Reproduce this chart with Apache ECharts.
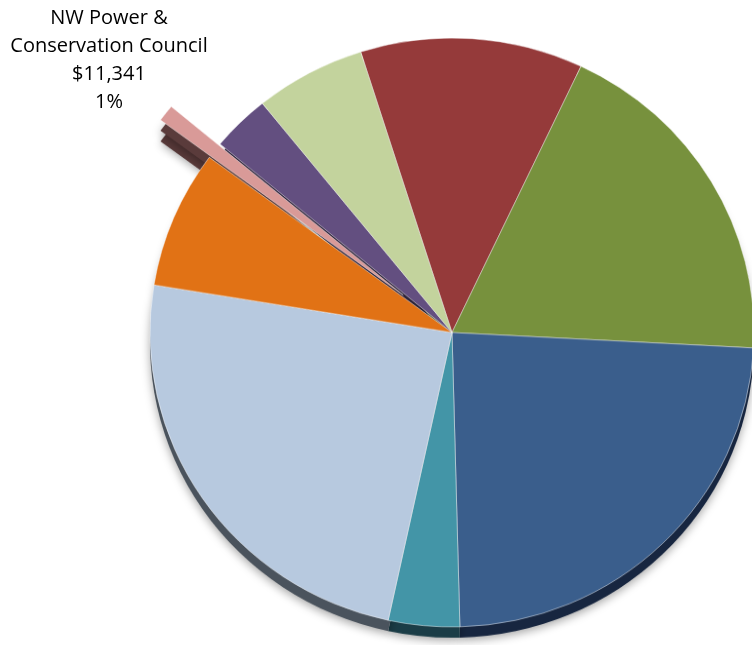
<!DOCTYPE html>
<html>
<head>
<meta charset="utf-8">
<script src="https://cdn.jsdelivr.net/npm/echarts@6/dist/echarts.min.js"></script>
<style>
  html, body { margin: 0; padding: 0; background: #ffffff; overflow: hidden; }
  #stage { position: relative; width: 752px; height: 645px; overflow: hidden; }
  /* the pie is drawn round and flattened slightly to give it a tilted look */
  #pie { position: absolute; left: 0; top: 0; width: 752px; height: 662px;
         transform: scaleY(0.975); transform-origin: 0 0; }
  #labels { position: absolute; left: 0; top: 0; width: 752px; height: 645px; }
</style>
</head>
<body>
<div id="stage">
  <div id="pie"></div>
  <div id="labels"></div>
</div>
<script>
// Budget shares, listed clockwise from the top of the pie
const categories = [
  'Fund A', 'Fund B', 'Fund C', 'Fund D', 'Fund E', 'Fund F',
  'NW Power & Conservation Council', 'Fund H', 'Fund I'
];
const amounts = [147400, 232700, 293800, 47100, 299300, 93500, 11341, 38800, 73200];
// Top face colours and the darker colours of the pie's edge
const topColors = ['#953a3a', '#77913d', '#3a5e8c', '#4395a7', '#b7c9df', '#e17215', '#d99a98', '#634f80', '#c3d39d'];
const sideColors = ['#4a1c1c', '#3b481e', '#172640', '#1b3d47', '#4a535d', '#70380a', '#5a3b3b', '#31273f', '#61694e'];
// The slice pulled out of the pie and given a callout
const explodedName = 'NW Power & Conservation Council';
const calloutLines = ['NW Power &', 'Conservation Council'];

const CX = 452, CY = 341, R = 302, DEPTH = 11;

const pieChart = echarts.init(document.getElementById('pie'), null, { renderer: 'canvas' });

function makeData(colors, onlyExploded) {
  return categories.map((name, i) => {
    const isExploded = name === explodedName;
    return {
      name: name,
      value: amounts[i],
      selected: isExploded,
      itemStyle: {
        color: colors[i],
        opacity: onlyExploded && !isExploded ? 0 : 1
      }
    };
  });
}

const common = {
  type: 'pie',
  radius: R,
  startAngle: 107.6,
  clockwise: true,
  selectedMode: 'single',
  selectedOffset: 62,
  silent: true,
  animation: false,
  labelLine: { show: false },
  label: { show: false }
};

pieChart.setOption({
  series: [
    // deeper edge face under the pulled-out slice
    Object.assign({}, common, {
      name: 'explodedEdge',
      center: [CX, CY + 22],
      z: 1,
      itemStyle: { shadowBlur: 8, shadowColor: 'rgba(0,0,0,0.3)', shadowOffsetY: 3 },
      data: makeData(sideColors, true)
    }),
    // pie edge
    Object.assign({}, common, {
      name: 'edge',
      center: [CX, CY + DEPTH],
      z: 2,
      itemStyle: { shadowBlur: 10, shadowColor: 'rgba(0,0,0,0.35)', shadowOffsetY: 3 },
      data: makeData(sideColors, false)
    }),
    // pie top face
    Object.assign({}, common, {
      name: 'top',
      center: [CX, CY],
      z: 3,
      itemStyle: { borderColor: 'rgba(255,255,255,0.45)', borderWidth: 1 },
      data: makeData(topColors, false)
    })
  ]
});

// Callout for the pulled-out slice, built from its value and share
const total = amounts.reduce((a, b) => a + b, 0);
const idx = categories.indexOf(explodedName);
const calloutText = calloutLines.concat([
  '$' + amounts[idx].toLocaleString('en-US'),
  Math.round(amounts[idx] / total * 100) + '%'
]).join('\n');

const labelChart = echarts.init(document.getElementById('labels'), null, { renderer: 'canvas' });
labelChart.setOption({
  graphic: [{
    type: 'text',
    x: 109,
    y: 4,
    silent: true,
    style: {
      text: calloutText,
      fill: '#000000',
      fontFamily: 'Open Sans',
      fontSize: 20,
      lineHeight: 28,
      align: 'center',
      verticalAlign: 'top'
    }
  }]
});
</script>
</body>
</html>
